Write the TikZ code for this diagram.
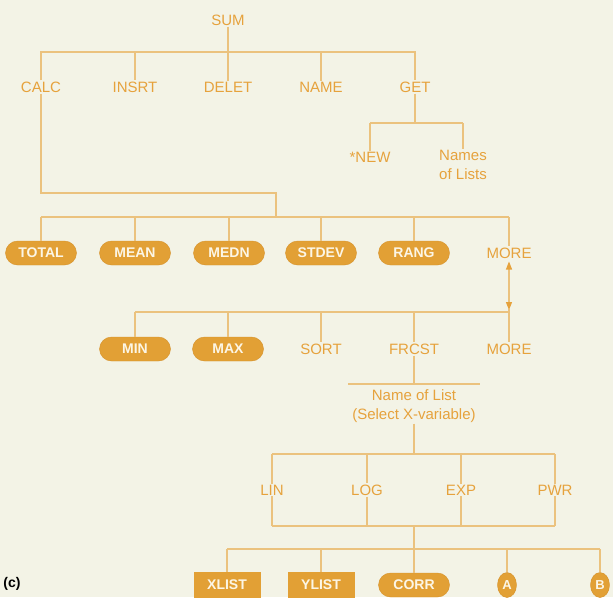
\documentclass[tikz,border=0pt]{standalone}
\usepackage{fontspec}
\setmainfont{Liberation Sans}
\usetikzlibrary{shapes.misc,shapes.geometric,arrows.meta}

\definecolor{bgcream}{HTML}{F3F3E6}
\definecolor{inkcol}{HTML}{E6A23C}
\definecolor{wirecol}{HTML}{EBC27E}
\definecolor{keyfill}{HTML}{E2A035}
\definecolor{keyedge}{HTML}{D6922C}
\definecolor{keytext}{HTML}{FCF6E6}

\begin{document}
\begin{tikzpicture}[x=1pt,y=-1pt]
    \tikzset{
        menu/.style={text=inkcol, font=\fontsize{15}{19}\selectfont, inner sep=1pt, align=center},
        softkey/.style={rounded rectangle, fill=keyfill, draw=keyedge, text=keytext,
            font=\bfseries\fontsize{14}{16}\selectfont, minimum width=71pt, minimum height=24pt, inner sep=0pt},
        boxkey/.style={rectangle, fill=keyfill, text=keytext,
            font=\bfseries\fontsize{14}{16}\selectfont, minimum width=67pt, minimum height=26pt, inner sep=0pt},
        tagkey/.style={ellipse, fill=keyfill, draw=keyedge, text=keytext,
            font=\bfseries\fontsize{13}{14}\selectfont, minimum width=19pt, minimum height=25pt, inner sep=0pt},
        wire/.style={draw=wirecol, line width=1.1pt},
        flip/.style={>={Triangle[width=6pt,length=8pt,color=inkcol]}, <->}
    }

    \fill[bgcream] (0,0) rectangle (613,597);
    \useasboundingbox (0,0) rectangle (613,597);

    % top menu
    \node[menu] (sum) at (228,20) {SUM};
    \node[menu] (calc) at (41,87) {CALC};
    \node[menu] (insrt) at (135,87) {INSRT};
    \node[menu] (delet) at (228,87) {DELET};
    \node[menu] (name) at (321,87) {NAME};
    \node[menu] (get) at (415,87) {GET};
    \node[menu] (new) at (370,157) {*NEW};
    \node[menu] (lists) at (463,165) {Names\\of Lists};

    % statistics keys
    \node[softkey] (total) at (41,253) {TOTAL};
    \node[softkey] (mean) at (135,253) {MEAN};
    \node[softkey] (medn) at (229,253) {MEDN};
    \node[softkey] (stdev) at (321,253) {STDEV};
    \node[softkey] (rang) at (414,253) {RANG};
    \node[menu] (more1) at (509,253) {MORE};

    \node[softkey] (nmin) at (135,349) {MIN};
    \node[softkey] (nmax) at (228,349) {MAX};
    \node[menu] (sort) at (321,349) {SORT};
    \node[menu] (frcst) at (414,349) {FRCST};
    \node[menu] (more2) at (509,349) {MORE};

    % forecast
    \node[menu] (listname) at (414,406) {Name of List\\(Select X-variable)};
    \node[menu] (nlin) at (272,490) {LIN};
    \node[menu] (nlog) at (367,490) {LOG};
    \node[menu] (nexp) at (461,490) {EXP};
    \node[menu] (npwr) at (555,490) {PWR};

    \node[boxkey] (xlist) at (227,585) {XLIST};
    \node[boxkey] (ylist) at (321,585) {YLIST};
    \node[softkey] (corr) at (414,585) {CORR};
    \node[tagkey] (taga) at (507,585) {A};
    \node[tagkey] (tagb) at (600,585) {B};

    \node[font=\bfseries\fontsize{14}{16}\selectfont, inner sep=0pt] (fig) at (12,584) {(c)};

    % bars
    \coordinate (topbar) at (0,52);
    \coordinate (getbar) at (0,123);
    \coordinate (calcbend) at (276,193);
    \coordinate (keybar) at (0,217);
    \coordinate (morebar) at (0,312);
    \coordinate (rulel) at (348,384);
    \coordinate (ruler) at (480,384);
    \coordinate (fitbar) at (0,454);
    \coordinate (fitfoot) at (0,526);
    \coordinate (outbar) at (0,549);

    \draw[wire] (sum) -- (delet);
    \draw[wire] (calc) |- (topbar -| get) -- (get);
    \foreach \n in {insrt,name}{
        \draw[wire] (topbar -| \n) -- (\n);
    }
    \draw[wire] (get) -- (getbar -| get);
    \draw[wire] (getbar -| new) -- (getbar -| lists);
    \foreach \n in {new,lists}{
        \draw[wire] (getbar -| \n) -- (\n);
    }

    \draw[wire] (calc) |- (calcbend) -- (calcbend |- keybar);
    \draw[wire] (keybar -| total) -- (keybar -| more1);
    \foreach \n in {total,mean,medn,stdev,rang,more1}{
        \draw[wire] (keybar -| \n) -- (\n);
    }
    \draw[wire, flip, shorten <=2pt, shorten >=2pt] (more1) -- (morebar -| more1);
    \draw[wire] (morebar -| more1) -- ++(0,-3);

    \draw[wire] (morebar -| nmin) -- (morebar -| more2);
    \foreach \n in {nmin,nmax,sort,frcst,more2}{
        \draw[wire] (morebar -| \n) -- (\n);
    }

    \draw[wire] (frcst) -- (frcst |- rulel);
    \draw[wire] (rulel) -- (ruler);
    \draw[wire] (listname) -- (listname |- fitbar);
    \draw[wire] (fitbar -| nlin) -- (fitbar -| npwr);
    \draw[wire] (fitfoot -| nlin) -- (fitfoot -| npwr);
    \foreach \n in {nlin,nlog,nexp,npwr}{
        \draw[wire] (fitbar -| \n) -- (\n);
        \draw[wire] (\n) -- (fitfoot -| \n);
    }

    \draw[wire] (fitfoot -| corr) -- (corr);
    \draw[wire] (outbar -| xlist) -- (outbar -| tagb);
    \foreach \n in {xlist,ylist,taga,tagb}{
        \draw[wire] (outbar -| \n) -- (\n);
    }
\end{tikzpicture}
\end{document}
